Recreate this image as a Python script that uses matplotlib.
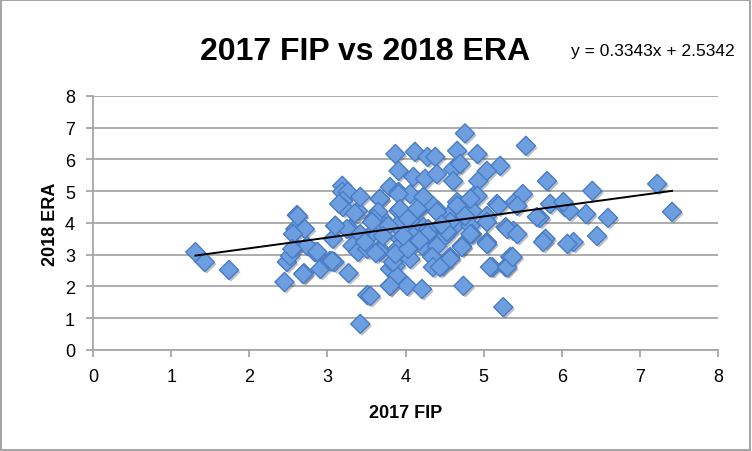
import matplotlib
matplotlib.use("Agg")
import matplotlib.pyplot as plt
import matplotlib.patheffects as pe
from matplotlib.patches import Rectangle
import numpy as np

plt.rcParams['font.family'] = ['Liberation Sans', 'DejaVu Sans']

# 2017 FIP (x) and 2018 ERA (y)
fip_2017 = [
    1.31, 1.43, 1.74, 2.45, 2.48, 2.52, 2.59, 2.70, 2.84, 2.91, 3.03, 3.09, 3.27, 3.51, 3.42, 2.74,
    2.61, 2.59, 2.71, 2.56, 2.55, 2.69, 2.87, 3.06, 3.10, 3.07, 3.19, 3.19, 3.26, 3.20, 3.20, 3.39,
    3.42, 3.32, 3.39, 3.51, 3.29, 3.67, 3.70, 3.67, 3.80, 3.80, 3.80, 3.87, 3.59, 3.72,
    3.87, 4.12, 4.28, 4.38, 4.66, 4.92, 5.21, 3.91, 4.10, 4.25, 4.40, 4.61, 4.70, 4.61, 4.93, 5.04,
    4.87, 3.91, 4.06, 4.23, 4.35, 4.66, 5.17, 5.40, 3.91, 4.15, 4.42, 4.55, 4.72, 4.87, 5.04, 5.28,
    5.38, 3.89, 4.06, 4.23, 4.44, 4.63, 4.83, 3.93, 4.10, 4.29, 4.51, 4.85, 5.04, 3.89, 4.03, 4.21,
    4.40, 4.72, 4.34, 4.57, 4.35, 4.47, 5.11, 5.28, 5.34, 3.89, 4.02, 4.21, 4.74, 3.84, 4.06,
    4.76, 5.54, 5.81, 5.50, 6.39, 7.22, 7.41, 5.85, 6.04, 6.10, 6.31, 6.59, 5.72, 5.79, 6.15, 6.45,
    3.67, 3.87, 4.03, 4.57, 4.72, 5.04, 4.44, 5.08, 5.30, 5.37, 3.80, 5.25, 3.55, 5.76, 6.07,
    3.67, 3.91, 4.23, 4.92, 3.65, 3.93, 4.15, 4.40, 4.66, 4.83, 5.19, 5.43, 5.68, 6.02,
    3.59, 3.78, 4.03, 4.29, 4.57, 4.76, 5.04, 5.30, 5.43, 3.71, 3.97, 4.28, 4.53, 4.83,
    3.25, 3.42, 3.57, 3.10, 2.62, 3.48, 3.62, 4.18, 4.46, 3.35, 3.15,
]
era_2018 = [
    3.08, 2.77, 2.52, 2.14, 2.77, 2.96, 3.24, 2.42, 3.08, 2.55, 2.80, 2.77, 2.42, 1.73, 0.82, 3.28,
    4.25, 3.81, 3.81, 3.65, 3.18, 2.39, 3.09, 2.80, 3.91, 3.50, 5.17, 4.98, 4.98, 4.69, 4.50, 4.38,
    4.82, 3.28, 3.09, 3.18, 3.81, 4.76, 4.13, 3.18, 5.13, 2.55, 2.02, 2.65, 3.72, 3.91,
    6.17, 6.24, 6.08, 6.08, 6.27, 6.17, 5.80, 5.64, 5.45, 5.39, 5.54, 5.70, 5.86, 5.32, 5.32, 5.64,
    4.85, 4.98, 4.91, 4.82, 4.54, 4.66, 4.60, 4.66, 4.38, 4.38, 4.38, 4.22, 4.54, 4.35, 4.22, 3.87,
    3.75, 3.91, 4.06, 3.87, 3.87, 3.91, 3.91, 3.50, 3.59, 3.65, 3.59, 3.65, 3.40, 3.18, 3.18, 3.28,
    3.28, 3.28, 2.93, 2.93, 2.61, 2.65, 2.61, 2.61, 2.93, 2.33, 2.02, 1.92, 2.02, 2.77, 2.87,
    6.82, 6.43, 5.32, 4.91, 5.01, 5.23, 4.35, 4.60, 4.50, 4.38, 4.28, 4.16, 4.16, 3.50, 3.40, 3.59,
    3.09, 3.02, 3.18, 2.87, 3.24, 3.34, 2.61, 2.61, 2.61, 2.93, 2.02, 1.35, 1.70, 3.40, 3.34,
    4.76, 4.91, 4.82, 4.85, 4.35, 4.44, 4.44, 4.35, 4.54, 4.76, 4.54, 4.54, 4.19, 4.66,
    4.13, 3.91, 4.13, 3.81, 4.03, 4.22, 4.03, 3.81, 3.65, 3.59, 3.59, 3.65, 3.72, 3.65,
    3.81, 3.65, 4.03, 3.91, 4.22, 3.40, 3.05, 3.45, 3.95, 4.30, 4.60,
]

# trend line as printed on the chart
slope = 0.3343
intercept = 2.5342
eq_text = "y = 0.3343x + 2.5342"

fig = plt.figure(figsize=(7.52, 4.52), dpi=100)
ax = fig.add_axes([0.1237, 0.2235, 0.8313, 0.5620])

ax.scatter(fip_2017, era_2018, marker="D", s=95, facecolor="#6c9ee0",
           edgecolor="#4a7cc4", linewidth=1.0, zorder=3,
           path_effects=[pe.SimplePatchShadow(offset=(1.5, -1.5), alpha=0.3), pe.Normal()])

xs = np.array([min(fip_2017), max(fip_2017)])
ax.plot(xs, slope * xs + intercept, color="black", lw=1.4, zorder=4)

ax.set_xlim(0, 8)
ax.set_ylim(0, 8)
ax.set_xticks(range(0, 9))
ax.set_yticks(range(0, 9))
ax.yaxis.grid(True, color="#a6a6a6", lw=1.3)
ax.set_axisbelow(True)
for s in ["top", "right"]:
    ax.spines[s].set_visible(False)
for s in ["left", "bottom"]:
    ax.spines[s].set_color("#a6a6a6")
    ax.spines[s].set_linewidth(1.3)
ax.tick_params(axis="x", direction="out", length=5, width=1.3, color="#a6a6a6",
               labelsize=13, pad=8)
ax.tick_params(axis="y", direction="out", length=5, width=1.3, color="#a6a6a6",
               labelsize=13, pad=8)

ax.set_xlabel("2017 FIP", fontsize=13, fontweight="bold", labelpad=14)
ax.set_ylabel("2018 ERA", fontsize=13, fontweight="bold", labelpad=4)

fig.text(0.485, 0.885, "2017 FIP vs 2018 ERA", ha="center", va="center",
         fontsize=23, fontweight="bold")
fig.text(0.868, 0.885, eq_text, ha="center", va="center", fontsize=12.5)

fig.patches.append(Rectangle((0.001, 0.002), 0.997, 0.995, transform=fig.transFigure,
                             fill=False, edgecolor="#a6a6a6", lw=1.5))

fig.savefig("out.png", dpi=100)
